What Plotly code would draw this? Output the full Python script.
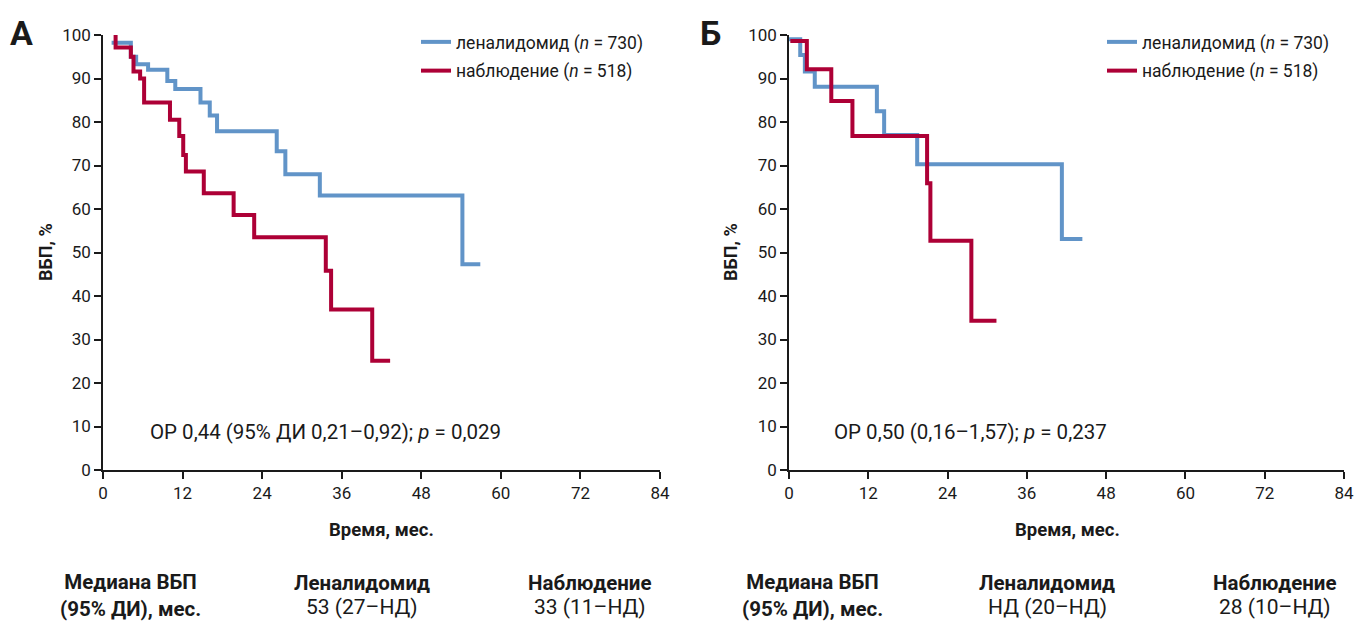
import plotly.graph_objects as go

# ---- data ----
xticks = [0, 12, 24, 36, 48, 60, 72, 84]
yticks = [0, 10, 20, 30, 40, 50, 60, 70, 80, 90, 100]

len_A_t = [1.3, 4.2, 5.0, 6.8, 9.7, 10.9, 14.7, 16.1, 17.2, 26.2, 27.5, 32.7, 54.2, 56.9]
len_A_s = [98.2, 95.0, 93.3, 92.0, 89.4, 87.6, 84.5, 81.5, 77.9, 73.3, 68.0, 63.1, 47.3, 47.3]

obs_A_t = [1.9, 1.9, 4.2, 4.6, 5.6, 6.2, 10.1, 11.5, 12.1, 12.5, 15.2, 19.7, 22.8, 33.6, 34.4, 40.6, 43.3]
obs_A_s = [100, 97.1, 95.0, 91.6, 90.0, 84.5, 80.5, 76.8, 72.4, 68.6, 63.6, 58.6, 53.5, 45.8, 36.9, 25.1, 25.1]

len_B_t = [0.0, 1.7, 2.4, 3.9, 13.3, 14.4, 19.4, 41.3, 44.4]
len_B_s = [99.0, 95.4, 91.6, 88.1, 82.5, 77.0, 70.3, 53.1, 53.1]

obs_B_t = [0.2, 2.7, 6.4, 9.6, 20.9, 21.4, 27.6, 31.4]
obs_B_s = [98.6, 92.1, 84.8, 76.8, 65.9, 52.7, 34.3, 34.3]

name_len = "леналидомид (<i>n</i> = 730)"
name_obs = "наблюдение (<i>n</i> = 518)"

hr_A = "ОР 0,44 (95% ДИ 0,21–0,92); <i>p</i> = 0,029"
hr_B = "ОР 0,50 (0,16–1,57); <i>p</i> = 0,237"

table_head = ["Медиана ВБП<br>(95% ДИ), мес.", "Леналидомид", "Наблюдение"]
table_A = ["53 (27–НД)", "33 (11–НД)"]
table_B = ["НД (20–НД)", "28 (10–НД)"]

BLUE = "#6194c8"
RED = "#ad0036"
INK = "#1a1a1a"
FONT = "Roboto"

fig = go.Figure()

fig.add_trace(go.Scatter(x=len_A_t, y=len_A_s, mode="lines", line=dict(color=BLUE, width=4, shape="hv"),
                         name=name_len, legend="legend", legendgroup="a1", xaxis="x", yaxis="y"))
fig.add_trace(go.Scatter(x=obs_A_t, y=obs_A_s, mode="lines", line=dict(color=RED, width=4, shape="hv"),
                         name=name_obs, legend="legend", legendgroup="a2", xaxis="x", yaxis="y"))
fig.add_trace(go.Scatter(x=len_B_t, y=len_B_s, mode="lines", line=dict(color=BLUE, width=4, shape="hv"),
                         name=name_len, legend="legend2", legendgroup="b1", xaxis="x2", yaxis="y2"))
fig.add_trace(go.Scatter(x=obs_B_t, y=obs_B_s, mode="lines", line=dict(color=RED, width=4, shape="hv"),
                         name=name_obs, legend="legend2", legendgroup="b2", xaxis="x2", yaxis="y2"))

# the page body margin is removed (see post_script), so the figure fills the window
W, H = 1358, 621

def px(x):
    return x / W

def py(y):
    return 1 - y / H

axis_common = dict(showline=True, linecolor=INK, linewidth=1.5, ticks="outside", ticklen=7,
                   tickwidth=1.5, tickcolor=INK, showgrid=False, zeroline=False,
                   tickfont=dict(size=17, color=INK, family=FONT), automargin=False)

ydom = [py(470), py(35)]
legend_common = dict(xanchor="left", yanchor="top", bgcolor="rgba(0,0,0,0)",
                     font=dict(size=17.5, family=FONT, color=INK), tracegroupgap=3)
fig.update_layout(
    width=W, height=H,
    template="none",
    paper_bgcolor="white", plot_bgcolor="white",
    margin=dict(l=0, r=0, t=0, b=0),
    font=dict(family=FONT, color=INK, size=16),
    xaxis=dict(domain=[px(103), px(660)], range=[0, 84], tickvals=xticks, anchor="y", **axis_common),
    yaxis=dict(domain=ydom, range=[0, 100], tickvals=yticks, anchor="x", **axis_common),
    xaxis2=dict(domain=[px(789), px(1344)], range=[0, 84], tickvals=xticks, anchor="y2", **axis_common),
    yaxis2=dict(domain=ydom, range=[0, 100], tickvals=yticks, anchor="x2", **axis_common),
    legend=dict(x=px(416), y=py(24), **legend_common),
    legend2=dict(x=px(1102), y=py(24), **legend_common),
)

ann = []

def label(text, x, y, size, **kw):
    d = dict(text=text, x=px(x), y=py(y), xref="paper", yref="paper", showarrow=False,
             xanchor="center", yanchor="middle", font=dict(size=size, family=FONT, color=INK))
    d.update(kw)
    return d

# panel letters
ann.append(label("<b>А</b>", 21, 33, 34))
ann.append(label("<b>Б</b>", 710, 33, 34))
# y titles
for xx in (45, 730):
    ann.append(label("<b>ВБП, %</b>", xx, 252, 18, textangle=-90))
# x titles
for xx in (381, 1067):
    ann.append(label("<b>Время, мес.</b>", xx, 530, 18.5))
# hazard ratio texts
ann.append(dict(text=hr_A, x=6.8, y=8.8, xref="x", yref="y", xanchor="left", yanchor="middle",
                showarrow=False, font=dict(size=20.5, family=FONT, color=INK)))
ann.append(dict(text=hr_B, x=6.5, y=8.8, xref="x2", yref="y2", xanchor="left", yanchor="middle",
                showarrow=False, font=dict(size=20.5, family=FONT, color=INK)))

# bottom tables
def table(cols, vals):
    out = [label("<b>" + table_head[0] + "</b>", cols[0], 595, 20.5, align="center")]
    for c, head, v in zip(cols[1:], table_head[1:], vals):
        out.append(label("<b>" + head + "</b>", c, 583, 20.5))
        out.append(label(v, c, 607, 21))
    return out

ann += table([130, 362, 590], table_A)
ann += table([812, 1047, 1275], table_B)

fig.update_layout(annotations=ann)

fig.write_html(
    "out.html",
    config={"displayModeBar": False},
    post_script="document.body.style.margin='0';document.body.style.overflow='hidden';",
)
